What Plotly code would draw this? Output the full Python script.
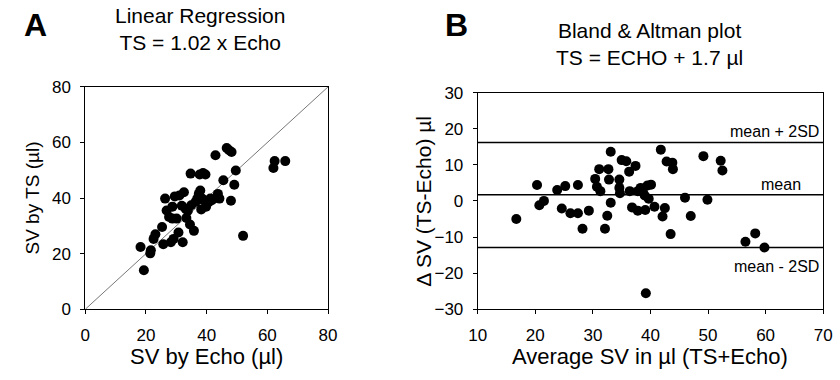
import plotly.graph_objects as go

# Panel A: SV by Echo (x) vs SV by TS (y)
echo_sv = [18.2, 19.3, 21.4, 21.6, 22.5, 23.1, 25.3, 25.7, 26.3, 26.8, 27.6, 28.2, 28.7, 29.1,
           29.5, 28.7, 30.1, 30.7, 31.0, 31.8, 32.1, 32.5, 33.1, 33.3, 33.8, 34.5, 34.7, 34.9,
           35.8, 36.3, 36.9, 37.4, 37.7, 37.9, 38.2, 38.5, 38.8, 39.0, 39.6, 39.8, 40.1, 40.7,
           41.2, 41.7, 42.9, 43.7, 44.2, 45.5, 46.6, 48.2, 48.0, 49.1, 49.6, 52.0, 62.0, 62.4,
           65.9, 47.4]
ts_sv = [22.4, 14.0, 20.1, 21.2, 25.3, 27.0, 29.6, 23.4, 39.8, 35.5, 33.2, 24.1, 36.9, 25.3,
         40.6, 32.6, 32.6, 27.6, 40.9, 37.2, 24.1, 42.1, 36.1, 32.8, 35.4, 30.5, 48.8, 37.4,
         28.2, 38.6, 39.8, 41.5, 48.5, 42.7, 35.9, 39.8, 49.0, 39.2, 48.5, 36.9, 38.0, 38.6,
         39.8, 39.2, 55.4, 41.5, 39.8, 46.4, 58.0, 56.6, 39.0, 44.8, 49.9, 26.4, 50.8, 53.3,
         53.3, 57.2]
identity = [0, 80]

# Panel B: Bland & Altman
avg_sv = [16.7, 20.3, 20.7, 21.5, 23.8, 24.6, 25.2, 26.1, 27.4, 27.4, 28.2, 29.3, 30.4, 30.7,
          31.1, 31.3, 32.1, 32.5, 32.7, 32.8, 33.1, 33.1, 34.6, 34.6, 34.7, 35.0, 35.8, 36.3,
          36.4, 36.8, 37.4, 37.8, 37.8, 38.3, 38.7, 39.0, 39.1, 39.2, 39.5, 39.7, 40.1, 40.7,
          41.8, 42.1, 42.5, 42.8, 43.5, 43.8, 43.9, 46.0, 47.0, 49.2, 49.9, 52.2, 52.5, 56.5,
          58.2, 59.8]
diff_sv = [-5.0, 4.4, -1.2, 0.0, 3.0, -2.1, 4.1, -3.4, 4.4, -3.4, -7.7, -2.7, 6.1, 3.9,
           8.8, 2.7, -7.7, -4.1, 8.8, 5.9, 13.6, -0.5, 5.9, 3.6, 2.1, 11.3, 11.0, 8.1,
           2.7, -1.8, 9.7, 2.7, -2.7, 3.6, 2.4, 1.5, -2.5, -25.6, 4.3, 0.6, 4.5, -1.6,
           14.2, -4.3, -2.0, 10.9, -9.2, 10.6, 8.8, 0.9, -4.2, 12.4, 0.3, 11.1, 8.4, -11.3,
           -9.0, -12.9]
limit_names = ["mean + 2SD", "mean", "mean - 2SD"]
limit_values = [16.2, 1.7, -12.9]
b_xrange = [10, 70]

FONT = "Arial, Liberation Sans, Arimo, sans-serif"
W, H = 840, 380

def px_x(p):
    return p / W

def px_y(p):
    return 1 - p / H

fig = go.Figure()

fig.add_trace(go.Scatter(x=identity, y=identity, mode="lines",
                         line=dict(color="#777777", width=1), xaxis="x", yaxis="y",
                         hoverinfo="skip", showlegend=False))
fig.add_trace(go.Scatter(x=echo_sv, y=ts_sv, mode="markers",
                         marker=dict(color="black", size=10), xaxis="x", yaxis="y",
                         showlegend=False))

for v in limit_values:
    fig.add_trace(go.Scatter(x=b_xrange, y=[v, v], mode="lines",
                             line=dict(color="black", width=1.5), xaxis="x2", yaxis="y2",
                             hoverinfo="skip", showlegend=False))
fig.add_trace(go.Scatter(x=avg_sv, y=diff_sv, mode="markers",
                         marker=dict(color="black", size=10), xaxis="x2", yaxis="y2",
                         showlegend=False))

axis_common = dict(showgrid=False, zeroline=False, showline=True, linecolor="black",
                   linewidth=1, mirror=True, ticks="outside", ticklen=4, tickcolor="black",
                   ticklabelstandoff=6,
                   tickfont=dict(family=FONT, size=17, color="black"))

A_L, A_R, A_T, A_B = 78, 326, 82, 316
B_L, B_R, B_T, B_B = 479, 832, 88, 316

fig.update_layout(
    width=W, height=H, margin=dict(l=0, r=0, t=0, b=0),
    paper_bgcolor="white", plot_bgcolor="white",
    font=dict(family=FONT, color="black"),
    xaxis=dict(domain=[px_x(A_L), px_x(A_R)], range=[0, 80], tickvals=[0, 20, 40, 60, 80],
               anchor="y", **axis_common),
    yaxis=dict(domain=[px_y(A_B), px_y(A_T)], range=[0, 80], tickvals=[0, 20, 40, 60, 80],
               anchor="x", **axis_common),
    xaxis2=dict(domain=[px_x(B_L), px_x(B_R)], range=b_xrange,
                tickvals=[10, 20, 30, 40, 50, 60, 70], anchor="y2", **axis_common),
    yaxis2=dict(domain=[px_y(B_B), px_y(B_T)], range=[-30, 30],
                tickvals=[-30, -20, -10, 0, 10, 20, 30], anchor="x2", **axis_common),
)

def ann(text, x, y, size, bold=False, xanchor="center", yanchor="middle", angle=0):
    fig.add_annotation(text=f"<b>{text}</b>" if bold else text, x=px_x(x), y=px_y(y),
                       xref="paper", yref="paper", showarrow=False, xanchor=xanchor,
                       yanchor=yanchor, textangle=angle,
                       font=dict(family=FONT, size=size, color="black"))

# Panel letters
ann("A", 27, 17, 32, bold=True)
ann("B", 457, 17, 32, bold=True)
# Titles
ann("Linear Regression<br>TS = 1.02 x Echo", 195, 21, 21)
ann("Bland &amp; Altman plot<br>TS = ECHO + 1.7 µl", 655, 37, 21)
# Axis titles
ann("SV by Echo (µl)", 202, 366, 22)
ann("SV by TS (µl)", 24, 199, 19, angle=-90)
ann("Average SV in µl (TS+Echo)", 655, 366, 22)
ann("Δ SV (TS-Echo) µl", 424, 202, 21, angle=-90)

# Limit line labels
fig.add_annotation(text=limit_names[0], x=69.7, y=limit_values[0], xref="x2", yref="y2",
                   showarrow=False, xanchor="right", yanchor="bottom",
                   font=dict(family=FONT, size=16, color="black"))
fig.add_annotation(text=limit_names[1], x=66.5, y=limit_values[1], xref="x2", yref="y2",
                   showarrow=False, xanchor="right", yanchor="bottom",
                   font=dict(family=FONT, size=16, color="black"))
fig.add_annotation(text=limit_names[2], x=69.7, y=limit_values[2], xref="x2", yref="y2",
                   showarrow=False, xanchor="right", yanchor="top", yshift=-9,
                   font=dict(family=FONT, size=16, color="black"))

fig.write_html("out.html")
